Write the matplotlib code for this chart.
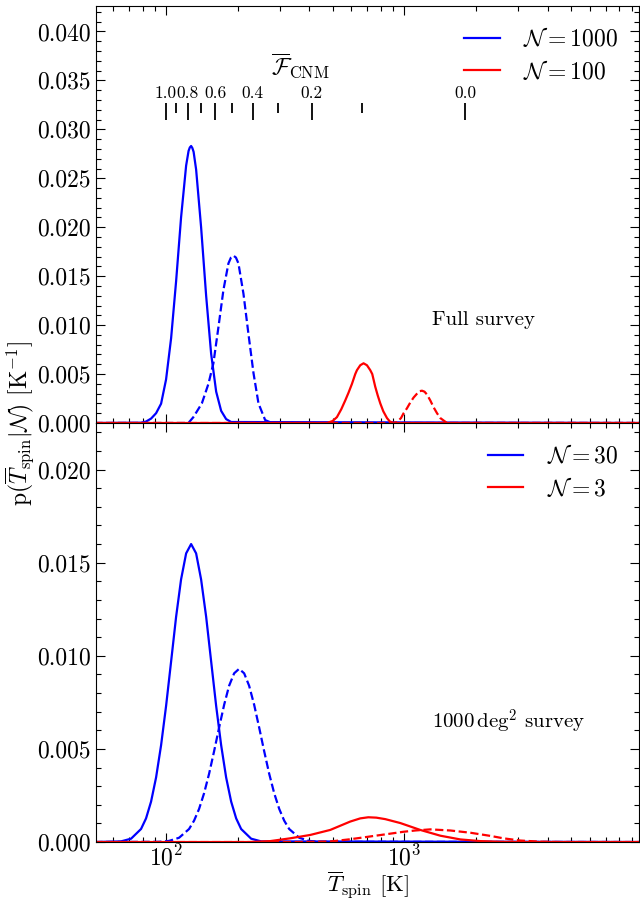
import numpy as np
import matplotlib
matplotlib.use("Agg")
import matplotlib.pyplot as plt
from matplotlib.ticker import MultipleLocator, FormatStrFormatter

plt.rcParams["font.family"] = "serif"
plt.rcParams["font.serif"] = ["cmr10", "DejaVu Serif"]
plt.rcParams["mathtext.fontset"] = "cm"
plt.rcParams["axes.formatter.use_mathtext"] = True
plt.rcParams["axes.unicode_minus"] = False

# probability densities, in units of 1e-3 K^-1
# --- full survey ---
t_full_n1000 = [50, 78.5, 82.4, 86.5, 90.8, 95.3, 100, 105.0, 110.2, 115.6, 121.4, 124.3,
                125.8, 127.4, 128.9, 130.5, 133.7, 140.3, 147.3, 154.6, 162.3, 170.3,
                178.7, 187.6, 10000]
p_full_n1000 = [0, 0.03, 0.15, 0.45, 1.0, 1.97, 4.45, 8.67, 14.5, 21.0, 26.3, 27.8,
                28.15, 28.3, 28.1, 27.7, 25.9, 20.0, 13.0, 7.06, 3.2, 1.24,
                0.4, 0.1, 0]

t_full_n1000_d = [50, 124.1, 130.2, 141.3, 150.6, 158.0, 165.9, 174.1, 182.7, 187.2, 191.8,
                  196.5, 201.3, 211.3, 221.7, 232.8, 244.3, 260.6, 278.0, 10000]
p_full_n1000_d = [0, 0, 0.6, 2.0, 4.0, 6.1, 9.8, 13.6, 16.3, 16.9, 17.1,
                  16.9, 16.3, 13.2, 9.1, 5.1, 2.0, 0.3, 0, 0]

t_full_n100 = [50, 473.3, 500, 521.5, 543.7, 565.0, 583.4, 603.0, 622.5, 632.9, 653.3,
               674.5, 697.0, 719.6, 733.7, 755.3, 773.9, 793.0, 816.2, 846.1, 870,
               901.6, 10000]
p_full_n100 = [0, 0, 0.2, 0.6, 1.4, 2.3, 3.1, 4.0, 5.0, 5.4, 5.9,
               6.1, 5.9, 5.4, 5.0, 3.7, 2.8, 2.0, 1.2, 0.5, 0.15,
               0, 0]

t_full_n100_d = [50, 901.6, 931.7, 968.5, 993.4, 1026, 1060, 1094, 1131, 1158, 1187, 1216,
                 1246, 1286, 1328, 1372, 1417, 1512, 10000]
p_full_n100_d = [0, 0, 0.1, 0.5, 1.0, 1.5, 2.1, 2.6, 3.0, 3.25, 3.3, 3.2,
                 2.9, 2.3, 1.6, 1.0, 0.5, 0, 0]

# --- 1000 deg^2 survey ---
t_sub_n30 = [50, 64.7, 71.3, 78.5, 82.4, 86.5, 90.8, 95.3, 100, 105.0, 110.2, 115.6, 121.4,
             127.4, 133.7, 140.3, 147.3, 154.6, 162.3, 170.3, 178.7, 187.6, 196.9, 206.6,
             227.6, 250.7, 10000]
p_sub_n30 = [0, 0.035, 0.18, 0.70, 1.27, 2.17, 3.47, 5.2, 7.3, 9.7, 12.1, 14.1, 15.5,
             16.0, 15.5, 14.1, 12.1, 9.7, 7.3, 5.2, 3.47, 2.17, 1.27, 0.70,
             0.18, 0.035, 0]

t_sub_n30_d = [50, 93.4, 102.9, 113.4, 124.9, 131.1, 137.6, 144.4, 151.6, 159.1, 167.0, 175.3,
               183.9, 193.1, 202.6, 212.7, 223.2, 234.3, 245.9, 258.1, 270.9, 284.4, 298.5,
               313.2, 328.7, 362.2, 398.9, 439.6, 10000]
p_sub_n30_d = [0, 0.013, 0.06, 0.23, 0.70, 1.15, 1.78, 2.62, 3.67, 4.88, 6.15, 7.37,
               8.39, 9.06, 9.3, 9.06, 8.39, 7.37, 6.15, 4.88, 3.67, 2.62, 1.78,
               1.15, 0.70, 0.23, 0.06, 0.013, 0]

t_sub_n3 = [50, 225.4, 273.5, 331.9, 402.7, 488.8, 593.2, 653.3, 706.1, 762.8, 832.1, 962.1,
            1167, 1417, 1719, 2086, 2532, 3000, 10000]
p_sub_n3 = [0, 0, 0.05, 0.2, 0.38, 0.65, 1.1, 1.27, 1.33, 1.31, 1.23, 1.02,
            0.65, 0.34, 0.14, 0.05, 0.013, 0, 0]

t_sub_n3_d = [50, 365.6, 488.8, 593.2, 719.6, 873.4, 990.4, 1112, 1286, 1561, 1894, 2298,
              2606, 3072, 3727, 4523, 10000]
p_sub_n3_d = [0, 0, 0.03, 0.15, 0.3, 0.45, 0.55, 0.62, 0.68, 0.62, 0.5, 0.33,
              0.2, 0.08, 0.02, 0, 0]

# mean CNM fraction scale drawn inside the top panel
fcnm_major_t = [100, 123.3, 160.7, 230.8, 409.1, 1800]
fcnm_major_labels = ["1.0", "0.8", "0.6", "0.4", "0.2", "0.0"]
fcnm_minor_t = [110.4, 139.5, 189.5, 295.1, 666.7]

BLUE = "#0000ff"
RED = "#ff0000"
LW = 1.6
FS = 17


def style_axis(ax, ymax):
    ax.set_xscale("log")
    ax.set_xlim(50.8, 9700)
    ax.set_ylim(0, ymax)
    ax.yaxis.set_major_locator(MultipleLocator(0.005))
    ax.yaxis.set_minor_locator(MultipleLocator(0.001))
    ax.yaxis.set_major_formatter(FormatStrFormatter("%.3f"))
    ax.tick_params(which="both", direction="in", top=True, right=True,
                   labelsize=FS, width=0.8)
    ax.tick_params(which="major", length=6.5)
    ax.tick_params(which="minor", length=3.5)
    ax.tick_params(axis="x", pad=2)


def plot_pair(ax, t, p, color, ls="-", label=None):
    ax.plot(t, np.array(p) * 1e-3, color=color, lw=LW, ls=ls, label=label)


fig = plt.figure(figsize=(6.4, 9), dpi=100)
ax1 = fig.add_axes([0.15, 0.53, 0.849, 0.4633])
ax2 = fig.add_axes([0.15, 0.0644, 0.849, 0.4656], sharex=ax1)

# top: full survey
plot_pair(ax1, t_full_n1000, p_full_n1000, BLUE, label=r"$\mathcal{N} = 1000$")
plot_pair(ax1, t_full_n1000_d, p_full_n1000_d, BLUE, ls="--")
plot_pair(ax1, t_full_n100, p_full_n100, RED, label=r"$\mathcal{N} = 100$")
plot_pair(ax1, t_full_n100_d, p_full_n100_d, RED, ls="--")
style_axis(ax1, 0.0426)
ax1.tick_params(labelbottom=False)
ax1.legend(loc="upper right", frameon=False, fontsize=FS, handlelength=1.5,
           handletextpad=1.0, labelspacing=0.35)
ax1.text(0.619, 0.247, "Full survey", transform=ax1.transAxes, fontsize=15,
         ha="left", va="center")

trans = ax1.get_xaxis_transform()
ax1.vlines(fcnm_major_t, 0.727, 0.767, transform=trans, color="k", lw=1.3)
ax1.vlines(fcnm_minor_t, 0.743, 0.767, transform=trans, color="k", lw=1.3)
for t, lab in zip(fcnm_major_t, fcnm_major_labels):
    ax1.text(t, 0.79, lab, transform=trans, ha="center", va="center", fontsize=12.5)
ax1.text(0.376, 0.854, r"$\overline{\mathcal{F}}_{\rm CNM}$", transform=ax1.transAxes,
         ha="center", va="center", fontsize=FS)

# bottom: 1000 deg^2 survey
plot_pair(ax2, t_sub_n30, p_sub_n30, BLUE, label=r"$\mathcal{N} = 30$")
plot_pair(ax2, t_sub_n30_d, p_sub_n30_d, BLUE, ls="--")
plot_pair(ax2, t_sub_n3, p_sub_n3, RED, label=r"$\mathcal{N} = 3$")
plot_pair(ax2, t_sub_n3_d, p_sub_n3_d, RED, ls="--")
style_axis(ax2, 0.0225)
ax2.legend(loc="upper right", frameon=False, fontsize=FS, handlelength=1.5,
           handletextpad=1.0, labelspacing=0.35)
ax2.text(0.619, 0.286, r"1000$\,\mathrm{deg}^2$ survey", transform=ax2.transAxes,
         fontsize=15, ha="left", va="center")
ax2.set_xlabel(r"$\overline{T}_{\rm spin}$ [K]", fontsize=16.5, labelpad=-1)

fig.text(0.032, 0.53, r"p$(\overline{T}_{\rm spin}|\mathcal{N})$ [K$^{-1}$]",
         rotation=90, ha="center", va="center", fontsize=FS)

fig.savefig("out.png", dpi=100)
